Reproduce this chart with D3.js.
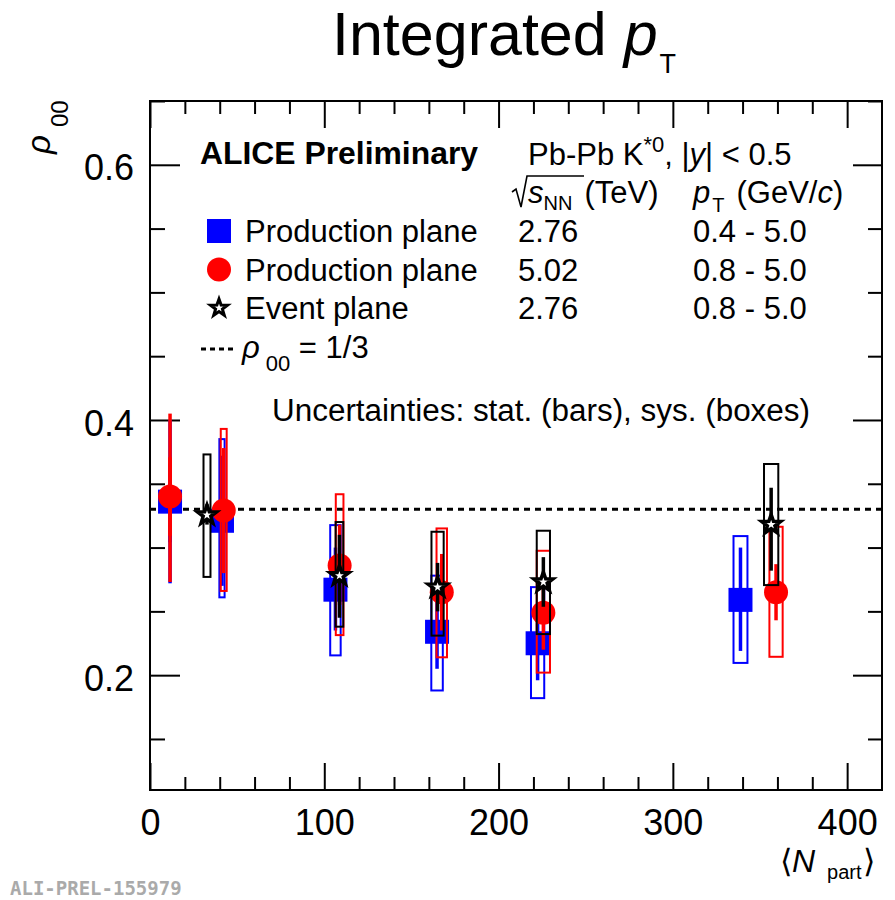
<!DOCTYPE html>
<html>
<head>
<meta charset="utf-8">
<script src="https://cdn.jsdelivr.net/npm/d3@7/dist/d3.min.js"></script>
<style>
  body { margin: 0; background: #fff; }
  text { font-family: "Liberation Sans", Arial, Helvetica, sans-serif; fill: #000; }
</style>
</head>
<body>
<svg id="chart" width="895" height="900"></svg>
<script>
// values (rho00 vs <Npart>)
// production plane, 2.76 TeV (blue squares)
const nPartPP276 = [11.5, 41.3, 106.4, 164.7, 222.4, 338.8];
const rhoPP276 = [0.336, 0.321, 0.267, 0.234, 0.225, 0.259];
const statLoPP276 = [0.272, 0.270, 0.235, 0.205, 0.196, 0.219];
const statHiPP276 = [0.400, 0.372, 0.300, 0.265, 0.255, 0.300];
const sysLoPP276 = [0.305, 0.261, 0.2155, 0.188, 0.182, 0.2096];
const sysHiPP276 = [0.365, 0.385, 0.3176, 0.278, 0.269, 0.309];
const sysWPP276 = [0.5, 1.5, 3.0, 3.3, 3.8, 4.0];

// production plane, 5.02 TeV (red circles)
const nPartPP502 = [11.5, 42.3, 108.8, 167.4, 225.7, 359.2];
const rhoPP502 = [0.340, 0.329, 0.286, 0.265, 0.249, 0.265];
const statLoPP502 = [0.273, 0.280, 0.255, 0.235, 0.220, 0.243];
const statHiPP502 = [0.405, 0.378, 0.318, 0.295, 0.278, 0.287];
const sysLoPP502 = [0.310, 0.266, 0.2314, 0.214, 0.202, 0.2144];
const sysHiPP502 = [0.370, 0.393, 0.3418, 0.315, 0.2975, 0.3163];
const sysWPP502 = [0.5, 1.7, 2.2, 3.0, 3.8, 3.8];

// event plane, 2.76 TeV (open stars)
const nPartEP276 = [32.7, 108.7, 165.0, 225.7, 356.4];
const rhoEP276 = [0.3255, 0.278, 0.269, 0.273, 0.318];
const statLoEP276 = [0.318, 0.245, 0.250, 0.2536, 0.2819];
const statHiEP276 = [0.334, 0.310, 0.288, 0.2925, 0.3469];
const sysLoEP276 = [0.277, 0.238, 0.231, 0.2322, 0.2706];
const sysHiEP276 = [0.373, 0.320, 0.3124, 0.3132, 0.3655];
const sysWEP276 = [2.0, 2.2, 3.5, 3.8, 4.1];

const rhoRef = 0.33; // dotted reference line as drawn
const xMajor = [0, 100, 200, 300, 400];
const xMinor = d3.range(20, 420, 20).filter(v => v % 100 !== 0);
const yMajor = [0.2, 0.4, 0.6];
const yMinor = [0.15, 0.25, 0.3, 0.35, 0.45, 0.5, 0.55, 0.65];

const svg = d3.select('#chart');

const x = d3.scaleLinear().domain([0, 420]).range([150, 882]);
const y = d3.scaleLinear().domain([0.11, 0.65]).range([790, 101]);

function cleanAxis(g) {
  g.select('.domain').remove();
  g.attr('font-family', null).attr('font-size', null);
  g.selectAll('line').attr('stroke', '#000').attr('stroke-width', 2);
  g.selectAll('text').attr('font-size', '36px');
}

// axes, ticks pointing inward like ROOT
svg.append('g').attr('transform', 'translate(0,790)')
  .call(d3.axisBottom(x).tickValues(xMajor).tickSize(-27).tickPadding(19).tickFormat(d3.format('d')))
  .call(cleanAxis);
svg.append('g').attr('transform', 'translate(0,790)')
  .call(d3.axisBottom(x).tickValues(xMinor).tickSize(-13).tickFormat(''))
  .call(cleanAxis);
svg.append('g').attr('transform', 'translate(0,101)')
  .call(d3.axisTop(x).tickValues(xMajor).tickSize(-27).tickFormat(''))
  .call(cleanAxis);
svg.append('g').attr('transform', 'translate(0,101)')
  .call(d3.axisTop(x).tickValues(xMinor).tickSize(-13).tickFormat(''))
  .call(cleanAxis);
svg.append('g').attr('transform', 'translate(150,0)')
  .call(d3.axisLeft(y).tickValues(yMajor).tickSize(-30).tickPadding(16).tickFormat(d3.format('.1f')))
  .call(cleanAxis)
  .selectAll('text').attr('dy', '0.42em');
svg.append('g').attr('transform', 'translate(150,0)')
  .call(d3.axisLeft(y).tickValues(yMinor).tickSize(-15).tickFormat(''))
  .call(cleanAxis);
svg.append('g').attr('transform', 'translate(882,0)')
  .call(d3.axisRight(y).tickValues(yMajor).tickSize(-29).tickFormat(''))
  .call(cleanAxis);
svg.append('g').attr('transform', 'translate(882,0)')
  .call(d3.axisRight(y).tickValues(yMinor).tickSize(-14).tickFormat(''))
  .call(cleanAxis);

svg.append('rect')
  .attr('x', x(0)).attr('y', y(0.65))
  .attr('width', x(420) - x(0)).attr('height', y(0.11) - y(0.65))
  .attr('fill', 'none').attr('stroke', '#000').attr('stroke-width', 2);

// rho00 = 1/3 line
svg.append('line')
  .attr('x1', x(0)).attr('x2', x(420))
  .attr('y1', y(rhoRef)).attr('y2', y(rhoRef))
  .attr('stroke', '#000').attr('stroke-width', 3).attr('stroke-dasharray', '6,5');

function starPath(R) {
  const pts = d3.range(10).map(k => {
    const a = -Math.PI / 2 + k * Math.PI / 5;
    const rr = k % 2 ? R * 0.4 : R;
    return [rr * Math.cos(a), rr * Math.sin(a)];
  });
  return 'M' + pts.map(p => p.join(',')).join('L') + 'Z';
}

function drawSeries(s) {
  const idx = d3.range(s.nPart.length);
  const g = svg.append('g');
  g.selectAll('rect.sys').data(idx).join('rect').attr('class', 'sys')
    .attr('x', i => x(s.nPart[i] - s.sysW[i]))
    .attr('width', i => x(s.nPart[i] + s.sysW[i]) - x(s.nPart[i] - s.sysW[i]))
    .attr('y', i => y(s.sysHi[i]))
    .attr('height', i => y(s.sysLo[i]) - y(s.sysHi[i]))
    .attr('fill', 'none').attr('stroke', s.color).attr('stroke-width', 2);
  g.selectAll('line.stat').data(idx).join('line').attr('class', 'stat')
    .attr('x1', i => x(s.nPart[i])).attr('x2', i => x(s.nPart[i]))
    .attr('y1', i => y(s.statHi[i])).attr('y2', i => y(s.statLo[i]))
    .attr('stroke', s.color).attr('stroke-width', 3.5);
  const m = g.selectAll('g.mk').data(idx).join('g').attr('class', 'mk')
    .attr('transform', i => `translate(${x(s.nPart[i])},${y(s.rho[i])})`);
  s.marker(m);
}

const square = sel => sel.append('rect').attr('x', -12).attr('y', -12).attr('width', 24).attr('height', 24).attr('fill', '#0000ff');
const circle = sel => sel.append('circle').attr('r', 12).attr('fill', '#ff0000');
const star = (R, w) => sel => sel.append('path').attr('d', starPath(R)).attr('fill', '#fff')
  .attr('stroke', '#000').attr('stroke-width', w).attr('stroke-linejoin', 'miter');

drawSeries({ nPart: nPartPP276, rho: rhoPP276, statLo: statLoPP276, statHi: statHiPP276,
  sysLo: sysLoPP276, sysHi: sysHiPP276, sysW: sysWPP276, color: '#0000ff', marker: square });
drawSeries({ nPart: nPartPP502, rho: rhoPP502, statLo: statLoPP502, statHi: statHiPP502,
  sysLo: sysLoPP502, sysHi: sysHiPP502, sysW: sysWPP502, color: '#ff0000', marker: circle });
drawSeries({ nPart: nPartEP276, rho: rhoEP276, statLo: statLoEP276, statHi: statHiEP276,
  sysLo: sysLoEP276, sysHi: sysHiEP276, sysW: sysWEP276, color: '#000', marker: star(10, 3.5) });

// title
const title = svg.append('text').attr('x', 332).attr('y', 55).attr('font-size', '61px').text('Integrated ');
title.append('tspan').attr('font-style', 'italic').text('p');
title.append('tspan').attr('font-size', '27px').attr('dx', 2).attr('dy', 18).text('T');

// axis titles
svg.append('text').attr('transform', 'translate(50,154) rotate(-90)')
  .attr('font-size', '33px').attr('font-style', 'italic').text('ρ');
svg.append('text').attr('transform', 'translate(68,127) rotate(-90)')
  .attr('font-size', '24px').text('00');

const xt = svg.append('text').attr('x', 780).attr('y', 872).attr('font-size', '32px');
xt.append('tspan').text('⟨');
xt.append('tspan').attr('font-style', 'italic').text('N');
xt.append('tspan').attr('font-size', '20px').attr('dx', 12).attr('dy', 7).text('part');
xt.append('tspan').attr('dy', -7).attr('dx', 1).text('⟩');

// legend block
svg.append('text').attr('x', 200).attr('y', 164).attr('font-size', '32px')
  .attr('font-weight', 'bold').attr('textLength', 278).attr('lengthAdjust', 'spacingAndGlyphs')
  .text('ALICE Preliminary');

const hdr = svg.append('text').attr('x', 528).attr('y', 165).attr('font-size', '31px');
hdr.append('tspan').text('Pb-Pb K');
hdr.append('tspan').attr('font-size', '22px').attr('dy', -13).text('*0');
hdr.append('tspan').attr('dy', 13).text(', |');
hdr.append('tspan').attr('font-style', 'italic').text('y');
hdr.append('tspan').text('| < 0.5');

// sqrt(s_NN) with a drawn radical sign
svg.append('path').attr('d', 'M512,192 L516,189 L521,207 L527,176 L584,176')
  .attr('fill', 'none').attr('stroke', '#000').attr('stroke-width', 1.6);
const sq = svg.append('text').attr('x', 528).attr('y', 203).attr('font-size', '31px');
sq.append('tspan').attr('font-style', 'italic').text('s');
sq.append('tspan').attr('font-size', '20px').attr('dy', 7).text('NN');
sq.append('tspan').attr('dy', -7).attr('dx', 12).text('(TeV)');

const pt = svg.append('text').attr('x', 693).attr('y', 203).attr('font-size', '31px');
pt.append('tspan').attr('font-style', 'italic').text('p');
pt.append('tspan').attr('font-size', '20px').attr('dx', 2).attr('dy', 9).text('T');
pt.append('tspan').attr('dy', -9).attr('dx', 12).text('(GeV/');
pt.append('tspan').attr('font-style', 'italic').text('c');
pt.append('tspan').text(')');

const legRows = ['Production plane', 'Production plane', 'Event plane'];
const legEnergy = ['2.76', '5.02', '2.76'];
const legPt = ['0.4 - 5.0', '0.8 - 5.0', '0.8 - 5.0'];
const legMarkers = [square, circle, star(9, 3)];
const legY = d3.scalePoint().domain(d3.range(3)).range([242, 319]);

legRows.forEach((name, i) => {
  const yy = legY(i);
  legMarkers[i](svg.append('g').attr('transform', `translate(219,${yy - 11})`));
  svg.append('text').attr('x', 245).attr('y', yy).attr('font-size', '31px').text(name);
  svg.append('text').attr('x', 518).attr('y', yy).attr('font-size', '31px').text(legEnergy[i]);
  svg.append('text').attr('x', 693).attr('y', yy).attr('font-size', '31px').text(legPt[i]);
});

svg.append('line').attr('x1', 201).attr('x2', 233).attr('y1', 349).attr('y2', 349)
  .attr('stroke', '#000').attr('stroke-width', 3).attr('stroke-dasharray', '5,4');
const rl = svg.append('text').attr('x', 242).attr('y', 358).attr('font-size', '31px');
rl.append('tspan').attr('font-style', 'italic').text('ρ');
rl.append('tspan').attr('font-size', '22px').attr('dx', 6).attr('dy', 13).text('00');
rl.append('tspan').attr('dy', -13).text(' = 1/3');

svg.append('text').attr('x', 272).attr('y', 421).attr('font-size', '31px')
  .attr('textLength', 538).attr('lengthAdjust', 'spacingAndGlyphs')
  .text('Uncertainties: stat. (bars), sys. (boxes)');

svg.append('text').attr('x', 10).attr('y', 895).attr('font-size', '19px')
  .attr('font-weight', 'bold')
  .style('font-family', '"DejaVu Sans Mono", monospace')
  .style('fill', '#aaaaaa').text('ALI-PREL-155979');
</script>
</body>
</html>
